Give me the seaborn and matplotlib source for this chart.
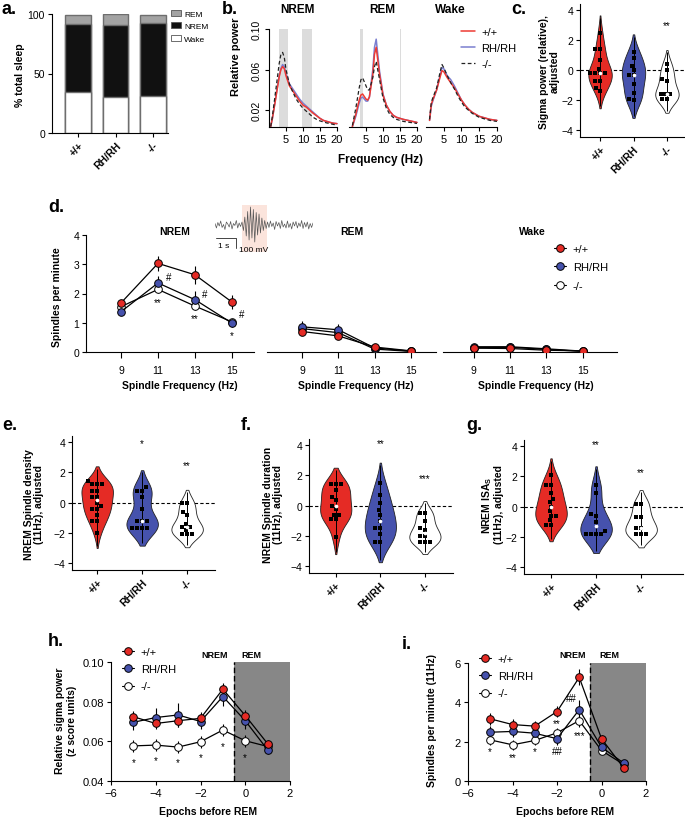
import numpy as np
import pandas as pd
import matplotlib
matplotlib.use("Agg")
import matplotlib.pyplot as plt
import seaborn as sns
from matplotlib.lines import Line2D
from matplotlib.patches import Patch, Rectangle

# ---------------- data ----------------
genotypes = ["+/+", "RH/RH", "-/-"]

# a. composition of recording (% total sleep)
wake_pct = [34.8, 30.6, 31.5]
nrem_pct = [56.5, 59.8, 60.9]
rem_pct = [7.9, 9.6, 7.1]

# b. relative power spectra
nrem_freq = [0.5, 1, 2, 3, 3.5, 4, 4.5, 5, 6, 7, 8, 9, 10, 11, 12, 13, 14, 15, 16, 17, 18, 19, 20]
nrem_wt = [0.004, 0.012, 0.032, 0.053, 0.060, 0.063, 0.061, 0.054, 0.044, 0.039, 0.034, 0.029,
           0.025, 0.023, 0.020, 0.017, 0.0145, 0.012, 0.010, 0.009, 0.008, 0.0072, 0.0068]
nrem_rh = [0.004, 0.012, 0.033, 0.054, 0.061, 0.065, 0.063, 0.056, 0.046, 0.041, 0.036, 0.031,
           0.027, 0.024, 0.021, 0.018, 0.015, 0.012, 0.010, 0.009, 0.008, 0.0072, 0.0068]
nrem_ko = [0.004, 0.014, 0.040, 0.066, 0.075, 0.077, 0.072, 0.060, 0.046, 0.038, 0.031, 0.026,
           0.022, 0.019, 0.016, 0.013, 0.011, 0.0095, 0.0085, 0.0075, 0.0068, 0.006, 0.0055]

rem_freq = [1, 2, 3, 3.5, 4, 5, 5.5, 6, 7, 7.5, 8, 9, 10, 11, 12, 13, 14, 15, 16, 18, 20]
rem_wt = [0.004, 0.016, 0.030, 0.035, 0.036, 0.031, 0.030, 0.033, 0.055, 0.075, 0.082, 0.055,
          0.035, 0.025, 0.019, 0.015, 0.013, 0.012, 0.011, 0.0095, 0.008]
rem_rh = [0.004, 0.014, 0.027, 0.032, 0.033, 0.029, 0.029, 0.033, 0.060, 0.082, 0.090, 0.058,
          0.036, 0.025, 0.019, 0.015, 0.013, 0.012, 0.011, 0.0095, 0.008]
rem_ko = [0.005, 0.022, 0.042, 0.050, 0.052, 0.044, 0.040, 0.040, 0.052, 0.063, 0.068, 0.050,
          0.032, 0.022, 0.016, 0.013, 0.011, 0.010, 0.009, 0.008, 0.007]

wake_freq = [1, 1.5, 2, 3, 4, 4.5, 5, 6, 7, 8, 9, 10, 11, 12, 13, 14, 15, 16, 18, 20]
wake_wt = [0.010, 0.026, 0.031, 0.040, 0.053, 0.059, 0.058, 0.052, 0.047, 0.042, 0.036, 0.030,
           0.025, 0.021, 0.018, 0.016, 0.014, 0.013, 0.011, 0.010]
wake_rh = [0.010, 0.024, 0.030, 0.040, 0.055, 0.062, 0.061, 0.054, 0.050, 0.044, 0.037, 0.030,
           0.025, 0.021, 0.018, 0.016, 0.014, 0.013, 0.011, 0.010]
wake_ko = [0.011, 0.028, 0.033, 0.042, 0.058, 0.065, 0.062, 0.054, 0.047, 0.041, 0.034, 0.028,
           0.023, 0.020, 0.017, 0.015, 0.013, 0.012, 0.010, 0.009]

nrem_bands = [(2.9, 5.6), (9.7, 12.6)]
rem_bands = [(3.2, 4.0), (15.1, 15.4)]

# c. sigma power (relative), adjusted
c_wt = [2.5, 1.4, 1.4, 0.7, 0.1, -0.2, -0.2, -0.2, -0.2, -0.7, -0.7, -1.2, -1.4]
c_rh = [1.2, 0.8, 0.3, 0.0, -0.35, -0.35, -0.9, -1.5, -1.9, -2.0]
c_ko = [0.4, 0.0, -0.6, -0.7, -1.6, -1.6, -1.6, -1.9, -1.9]

# d. spindles per minute by spindle frequency
spindle_freq = [9, 11, 13, 15]
d_nrem = {"+/+": [1.68, 3.03, 2.64, 1.71], "RH/RH": [1.38, 2.36, 1.79, 0.99], "-/-": [1.55, 2.14, 1.57, 1.03]}
d_nrem_err = {"+/+": [0.1, 0.25, 0.3, 0.25], "RH/RH": [0.1, 0.25, 0.3, 0.15], "-/-": [0.1, 0.12, 0.15, 0.1]}
d_rem = {"+/+": [0.70, 0.55, 0.17, 0.04], "RH/RH": [0.86, 0.76, 0.14, 0.03], "-/-": [0.80, 0.66, 0.10, 0.02]}
d_rem_err = {"+/+": [0.08, 0.08, 0.05, 0.02], "RH/RH": [0.2, 0.2, 0.05, 0.02], "-/-": [0.1, 0.1, 0.04, 0.02]}
d_wake = {"+/+": [0.13, 0.12, 0.06, 0.04], "RH/RH": [0.18, 0.18, 0.11, 0.03], "-/-": [0.15, 0.16, 0.09, 0.02]}
d_wake_err = {"+/+": [0.04, 0.04, 0.03, 0.02], "RH/RH": [0.04, 0.04, 0.03, 0.02], "-/-": [0.04, 0.04, 0.03, 0.02]}

# example EEG trace (arbitrary units)
eeg_trace = [0.3, -0.6, 0.5, -0.2, 0.8, -0.5, 0.1, -0.9, 0.6, 0.2, -0.4, 0.7, -0.8, 0.3, -0.1, 0.9,
             -0.6, 0.4, -0.3, 0.6,
             -1.1, 1.6, -2.2, 2.7, -3.0, 3.6, -2.6, 3.1, -3.4, 2.5, -2.0, 2.2, -1.6, 1.4, -1.1, 0.9, -0.7,
             0.6, -0.5, 0.8, -0.3, 0.4, -0.9, 0.7, -0.2, 0.5, -0.7, 0.9, -0.4, 0.2, -0.6, 0.8, -0.5,
             0.3, -0.8, 0.6, -0.2, 0.7, -0.6, 0.4, -0.3, 0.9, -0.7, 0.5, -0.4, 0.6, -0.8, 0.3, -0.5, 0.4]

# e-g. NREM spindle measures (11 Hz), adjusted
e_wt = [1.4, 1.2, 1.2, 1.2, 0.8, 0.8, 0.4, 0.4, 0.0, -0.2, -0.4, -0.4, -0.8, -1.2, -1.2, -2.0]
e_rh = [1.0, 0.8, 0.8, 0.4, -0.4, -1.2, -1.2, -1.2, -1.7, -1.7, -1.7, -1.7]
e_ko = [0.0, 0.0, -0.6, -0.8, -1.4, -1.6, -1.6, -1.8, -2.1, -2.1, -2.1]
f_wt = [1.4, 1.4, 1.4, 1.0, 0.6, 0.4, 0.0, -0.2, -0.6, -0.6, -0.9, -0.9, -2.1]
f_rh = [1.5, 0.7, 0.2, -0.3, -0.6, -1.0, -1.5, -1.5, -1.9, -2.4, -2.4]
f_ko = [-0.5, -0.5, -1.0, -1.5, -1.6, -2.0, -2.4, -2.4, -2.4, -2.0]
g_wt = [2.1, 1.4, 1.4, 0.9, 0.5, 0.3, 0.0, -0.3, -0.6, -0.6, -0.9, -1.2, -1.2]
g_rh = [1.4, 0.9, -0.5, -0.6, -1.0, -1.6, -1.8, -1.8, -1.8, -1.8]
g_ko = [0.2, 0.2, -0.7, -0.7, -1.4, -1.4, -1.8, -1.8, -1.8]

# h-i. transition to REM
epochs = [-5, -4, -3, -2, -1, 0, 1]
h_vals = {"+/+": [0.0724, 0.0690, 0.0704, 0.0716, 0.0863, 0.0730, 0.0588],
          "RH/RH": [0.0696, 0.0720, 0.0733, 0.0700, 0.0826, 0.0704, 0.0557],
          "-/-": [0.0577, 0.0581, 0.0571, 0.0598, 0.0657, 0.0603, 0.0574]}
h_err = {"+/+": [0.003, 0.003, 0.003, 0.003, 0.003, 0.003, 0.002],
         "RH/RH": [0.004, 0.005, 0.006, 0.004, 0.005, 0.004, 0.002],
         "-/-": [0.003, 0.003, 0.003, 0.003, 0.003, 0.003, 0.002]}
i_vals = {"+/+": [3.16, 2.87, 2.79, 3.53, 5.27, 2.15, 0.66],
          "RH/RH": [2.48, 2.52, 2.43, 2.15, 3.63, 1.72, 0.91],
          "-/-": [2.09, 1.84, 2.06, 2.45, 3.07, 1.55, 0.84]}
i_err = {"+/+": [0.3, 0.3, 0.25, 0.3, 0.4, 0.2, 0.1],
         "RH/RH": [0.3, 0.3, 0.3, 0.3, 0.5, 0.2, 0.1],
         "-/-": [0.25, 0.25, 0.25, 0.25, 0.3, 0.2, 0.1]}

# ---------------- style ----------------
RED = "#e52b25"
BLUE = "#4652ad"
LINE_RED = "#ee3a33"
LINE_BLUE = "#7b7fd0"
marker_fc = {"+/+": RED, "RH/RH": BLUE, "-/-": "white"}

sns.set_theme(style="ticks")
plt.rcParams["font.family"] = ["Liberation Sans", "DejaVu Sans"]
plt.rcParams["mathtext.fontset"] = "custom"
plt.rcParams["mathtext.rm"] = "Liberation Sans"
plt.rcParams["mathtext.bf"] = "Liberation Sans:bold"
plt.rcParams["axes.facecolor"] = "none"
plt.rcParams["axes.edgecolor"] = "black"
plt.rcParams["axes.linewidth"] = 0.8
plt.rcParams["text.color"] = "black"
plt.rcParams["xtick.color"] = "black"
plt.rcParams["ytick.color"] = "black"
plt.rcParams["xtick.major.width"] = 0.8
plt.rcParams["ytick.major.width"] = 0.8
plt.rcParams["xtick.major.size"] = 3
plt.rcParams["ytick.major.size"] = 3
plt.rcParams["xtick.major.pad"] = 2
plt.rcParams["ytick.major.pad"] = 2
plt.rcParams["xtick.labelsize"] = 7.5
plt.rcParams["ytick.labelsize"] = 7.5

W, H = 685, 820
fig = plt.figure(figsize=(W / 100, H / 100), dpi=100)
fig.patch.set_facecolor("white")

ov = fig.add_axes([0, 0, 1, 1])
ov.set_xlim(0, W)
ov.set_ylim(H, 0)
ov.axis("off")


def px_axes(x0, y0, x1, y1):
    return fig.add_axes([x0 / W, 1 - y1 / H, (x1 - x0) / W, (y1 - y0) / H])


def ftext(x, y, s, **kw):
    kw.setdefault("ha", "center")
    kw.setdefault("va", "center")
    fig.text(x / W, 1 - y / H, s, **kw)


def geno_ticks(ax):
    ax.set_xticks(range(3))
    ax.set_xticklabels(genotypes, rotation=45, ha="right", rotation_mode="anchor",
                       fontweight="bold", fontsize=7.5)


# panel letters
for lab, x, y in [("a.", 2, 1), ("b.", 222, 1), ("c.", 511, 1), ("d.", 48, 199), ("e.", 2, 417),
                  ("f.", 241, 417), ("g.", 466, 417), ("h.", 48, 633), ("i.", 402, 636)]:
    ftext(x, y, lab, ha="left", va="top", fontsize=13, fontweight="bold")

# ---------------- a ----------------
ax = px_axes(52, 15, 168, 134)
rem_top = np.add(np.add(wake_pct, nrem_pct), rem_pct)
nrem_top = np.add(wake_pct, nrem_pct)
for tops, col in [(rem_top, "#a3a3a3"), (nrem_top, "#111111"), (wake_pct, "white")]:
    sns.barplot(x=genotypes, y=tops, color=col, saturation=1, width=0.68,
                edgecolor="#6e6e6e", linewidth=1, ax=ax)
ax.set_xlim(-0.7, 2.4)
ax.set_ylim(0, 100)
ax.set_yticks([0, 50, 100])
geno_ticks(ax)
sns.despine(ax=ax)
ftext(20, 75, "% total sleep", rotation=90, fontsize=7.5, fontweight="bold")
handles = [Patch(facecolor=c, edgecolor="#555555", lw=0.6) for c in ["#a3a3a3", "#111111", "white"]]
fig.legend(handles, ["REM", "NREM", "Wake"], loc="upper left", bbox_to_anchor=(171 / W, 1 - 11 / H),
           frameon=False, fontsize=6, handlelength=1.2, handleheight=0.7, handletextpad=0.4,
           labelspacing=0.55, borderpad=0, borderaxespad=0)

# ---------------- b ----------------
spec_panels = [
    ("NREM", (269, 338), nrem_freq, nrem_wt, nrem_rh, nrem_ko, nrem_bands, 297),
    ("REM", (349, 418), rem_freq, rem_wt, rem_rh, rem_ko, rem_bands, 382),
    ("Wake", (426, 498), wake_freq, wake_wt, wake_rh, wake_ko, [], 450),
]
for k, (title, (x0, x1), fr, wt, rh, ko, bands, tx) in enumerate(spec_panels):
    ax = px_axes(x0, 30, x1, 128)
    for lo, hi in bands:
        ax.axvspan(lo, hi, color="#dcdcdc", lw=0, zorder=0)
    sns.lineplot(x=fr, y=rh, color=LINE_BLUE, lw=1.1, ax=ax)
    sns.lineplot(x=fr, y=wt, color=LINE_RED, lw=1.1, ax=ax)
    sns.lineplot(x=fr, y=ko, color="#222222", lw=0.9, linestyle=(0, (3, 2)), ax=ax)
    ax.set_xlim(0, 20.3)
    ax.set_ylim(0.0035, 0.1)
    ax.set_xticks([5, 10, 15, 20])
    ax.tick_params(axis="x", labelsize=8, pad=2)
    ax.spines[["top", "right"]].set_visible(False)
    ax.spines["bottom"].set_bounds(0, 20)
    if k == 0:
        ax.set_yticks([0.02, 0.06, 0.10])
        ax.set_yticklabels(["0.02", "0.06", "0.10"], rotation=90, va="center", fontsize=7.5)
    else:
        ax.spines["left"].set_visible(False)
        ax.set_yticks([])
    ftext(tx, 10, title, fontsize=8.5, fontweight="bold")
ftext(236, 57, "Relative power", rotation=90, fontsize=8, fontweight="bold")
ftext(380, 160, "Frequency (Hz)", fontsize=8.5, fontweight="bold")
handles = [Line2D([], [], color=LINE_RED, lw=1.1), Line2D([], [], color=LINE_BLUE, lw=1.1),
           Line2D([], [], color="#222222", lw=0.9, linestyle=(0, (3, 2)))]
fig.legend(handles, genotypes, loc="upper left", bbox_to_anchor=(461 / W, 1 - 28 / H), frameon=False,
           fontsize=8, handlelength=1.3, handletextpad=0.5, labelspacing=0.55, borderpad=0, borderaxespad=0)


# ---------------- violins (c, e, f, g) ----------------
def violin_panel(box, wt, rh, ko, stars, xlim, ylabel, lx, ly):
    x0, y0, x1, y1 = box
    ax = px_axes(x0, y0, x1, y1)
    vals = [wt, rh, ko]
    df = pd.DataFrame({"g": np.repeat(genotypes, [len(v) for v in vals]), "v": np.concatenate(vals)})
    ax.axhline(0, color="black", lw=0.8, ls=(0, (3, 2)), zorder=0.5)
    sns.violinplot(data=df, x="g", y="v", hue="g", order=genotypes, hue_order=genotypes,
                   palette=[RED, BLUE, "white"], inner=None, linecolor="#222222", linewidth=0.6,
                   width=0.7, cut=1.7, saturation=1, legend=False, ax=ax)
    for coll in ax.collections:
        verts = coll.get_paths()[0].vertices
        xc = (verts[:, 0].min() + verts[:, 0].max()) / 2
        ax.vlines(xc, verts[:, 1].min() + 0.15, verts[:, 1].max() - 0.15, color="black", lw=0.7, zorder=2)
    sns.swarmplot(data=df, x="g", y="v", order=genotypes, color="black", marker="s", size=3.4,
                  ax=ax, zorder=3)
    for i, v in enumerate(vals):
        ax.scatter(i, np.median(v), s=7, color="white", zorder=5, lw=0)
    for i, (s, yy) in enumerate(stars):
        if s:
            ax.text(i, yy, s, ha="center", va="center", fontsize=7)
    ax.set_xlim(*xlim)
    ax.set_ylim(-4.45, 4.4)
    ax.set_yticks([-4, -2, 0, 2, 4])
    ax.set_xlabel("")
    ax.set_ylabel("")
    geno_ticks(ax)
    sns.despine(ax=ax)
    ftext(lx, ly, ylabel, rotation=90, fontsize=7.5, fontweight="bold", linespacing=1.1)
    return ax


violin_panel((580, 5, 685, 138), c_wt, c_rh, c_ko, [("", 0), ("", 0), ("**", 3.0)], (-0.6, 2.54),
             "Sigma power (relative),\nadjusted", 549, 72)
violin_panel((72, 437, 215, 571), e_wt, e_rh, e_ko, [("", 0), ("*", 3.9), ("**", 2.5)], (-0.56, 2.62),
             "NREM Spindle density\n(11Hz), adjusted", 34, 505)
violin_panel((309, 440, 453, 574), f_wt, f_rh, f_ko, [("", 0), ("**", 4.1), ("***", 1.8)], (-0.6, 2.63),
             "NREM Spindle duration\n(11Hz), adjusted", 273, 505)
violin_panel((524, 441, 683, 575), g_wt, g_rh, g_ko, [("", 0), ("**", 4.1), ("**", 2.3)], (-0.6, 2.93),
             "NREM ISA$_{\\mathbf{S}}$\n(11Hz), adjusted", 492, 505)

# ---------------- d ----------------
order = ["-/-", "RH/RH", "+/+"]
d_panels = [("NREM", (86, 254), (7.1, 16.2), d_nrem, d_nrem_err, 175, 180),
            ("REM", (267, 436), (7.05, 16.4), d_rem, d_rem_err, 352, 356),
            ("Wake", (443, 617), (7.3, 16.9), d_wake, d_wake_err, 532, 536)]
for k, (title, (x0, x1), xlim, vals, errs, tx, lx) in enumerate(d_panels):
    ax = px_axes(x0, 236, x1, 353)
    for g in order:
        ax.errorbar(spindle_freq, vals[g], yerr=errs[g], fmt="-o", color="black", lw=0.9,
                    elinewidth=0.8, capsize=0, ms=5.5, mfc=marker_fc[g], mec="black", mew=0.7, zorder=3)
    ax.set_xlim(*xlim)
    ax.set_ylim(0, 4)
    ax.set_xticks(spindle_freq)
    ax.tick_params(axis="x", length=4.5, pad=5, labelsize=7.5)
    ax.spines[["top", "right"]].set_visible(False)
    if k == 0:
        ax.set_yticks([0, 1, 2, 3, 4])
    else:
        ax.spines["left"].set_visible(False)
        ax.set_yticks([])
    ftext(tx, 232, title, fontsize=7.5, fontweight="bold")
    ftext(lx, 386, "Spindle Frequency (Hz)", fontsize=7.5, fontweight="bold")
    if k == 0:
        for s, xx, yy in [("**", 11, 1.72), ("#", 11.55, 2.58), ("#", 13.55, 1.98), ("**", 13, 1.15),
                          ("#", 15.55, 1.3), ("*", 15, 0.57)]:
            ax.text(xx, yy, s, ha="center", va="center", fontsize=7)
ftext(57, 297, "Spindles per minute", rotation=90, fontsize=7.5, fontweight="bold")
handles = [Line2D([], [], color="black", lw=0.8, marker="o", ms=5.5, mfc=marker_fc[g], mec="black", mew=0.7)
           for g in genotypes]
fig.legend(handles, genotypes, loc="upper left", bbox_to_anchor=(554 / W, 1 - 245 / H), frameon=False,
           fontsize=8, handlelength=1.1, handletextpad=0.6, labelspacing=0.75, borderpad=0, borderaxespad=0)

# EEG inset
ov.add_patch(Rectangle((242, 206), 25, 47, color="#fbe4dc", lw=0, zorder=0))
ax = px_axes(215, 207, 313, 245)
ax.plot(np.arange(len(eeg_trace)), eeg_trace, color="#555555", lw=0.5)
ax.set_xlim(0, len(eeg_trace) - 1)
ax.set_ylim(-3.8, 3.8)
ax.axis("off")
ov.plot([216, 236, 236], [239, 239, 249], color="#444444", lw=0.7)
ftext(224, 246, "1 s", fontsize=6)
ftext(239, 251, "100 mV", fontsize=6, ha="left")


# ---------------- h, i ----------------
def transition_panel(box, vals, errs, ylim, yticks, yfmt, notes, ylabel, lx, leg_xy, nrem_x):
    x0, y0, x1, y1 = box
    ax = px_axes(x0, y0, x1, y1)
    ax.axvspan(-0.5, 2, color="#878787", lw=0, zorder=0)
    ax.axvline(-0.5, color="black", lw=1, ls=(0, (4, 2)), zorder=1)
    for g in order:
        ax.errorbar(epochs, vals[g], yerr=errs[g], fmt="-o", color="black", lw=0.9,
                    elinewidth=0.8, capsize=0, ms=5.5, mfc=marker_fc[g], mec="black", mew=0.7, zorder=3)
    for s, xx, yy in notes:
        ax.text(xx, yy, s, ha="center", va="center", fontsize=7)
    ax.set_xlim(-6, 2)
    ax.set_ylim(*ylim)
    ax.set_xticks([-6, -4, -2, 0, 2])
    ax.set_yticks(yticks)
    ax.set_yticklabels([yfmt.format(t) for t in yticks])
    ax.tick_params(labelsize=8)
    ax.spines[["top", "right"]].set_visible(False)
    ftext((x0 + x1) / 2 + 8, 812, "Epochs before REM", fontsize=7.5, fontweight="bold")
    ftext(lx, (y0 + y1) / 2 - 2, ylabel, rotation=90, fontsize=7.5, fontweight="bold", linespacing=1.15)
    ftext(nrem_x, 655, "NREM", fontsize=6.5, fontweight="bold")
    ftext(nrem_x + 36, 655, "REM", fontsize=6.5, fontweight="bold")
    fig.legend(handles, genotypes, loc="upper left", bbox_to_anchor=(leg_xy[0] / W, 1 - leg_xy[1] / H),
               frameon=False, fontsize=8, handlelength=1.1, handletextpad=0.6, labelspacing=0.65,
               borderpad=0, borderaxespad=0)
    return ax


transition_panel((111, 663, 290, 782), h_vals, h_err, (0.04, 0.10), [0.04, 0.06, 0.08, 0.10], "{:.2f}",
                 [("*", -5, 0.0497), ("*", -4, 0.0507), ("*", -3, 0.0493), ("*", -2, 0.0522),
                  ("*", -1, 0.0578), ("*", 0, 0.0522)],
                 "Relative sigma power\n(z score units)", 66, (122, 648), 215)
transition_panel((468, 664, 646, 782), i_vals, i_err, (0, 6), [0, 2, 4, 6], "{:.0f}",
                 [("*", -5, 1.5), ("**", -4, 1.2), ("*", -3, 1.5), ("**", -2, 2.95), ("##", -2, 1.5),
                  ("##", -1.35, 4.2), ("***", -1, 2.35)],
                 "Spindles per minute (11Hz)", 432, (479, 655), 573)

fig.savefig("out.png", dpi=100, facecolor="white")
